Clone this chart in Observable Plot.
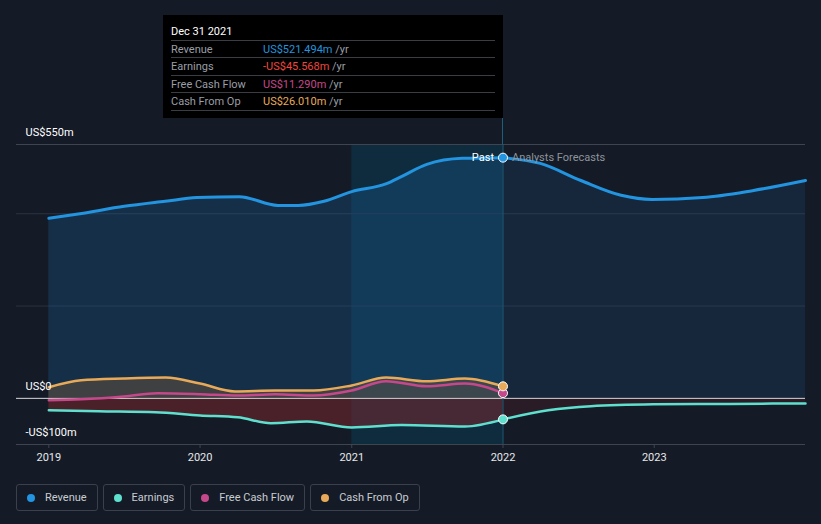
<!DOCTYPE html>
<html>
<head>
<meta charset="utf-8">
<script src="https://cdn.jsdelivr.net/npm/d3@7"></script>
<script src="https://cdn.jsdelivr.net/npm/@observablehq/plot@0.6"></script>
<style>
  html, body { margin: 0; padding: 0; background: #151b26; }
  body { font-family: Roboto, "Noto Sans", sans-serif; }
  #wrap { position: relative; width: 821px; height: 524px; overflow: hidden; }
  #chart svg { display: block; }
  .tip { position: absolute; left: 163px; top: 15px; width: 340px; height: 103px; background: #000; color: #fff; font-size: 11px; }
  .tip .head { position: absolute; left: 8px; top: 10px; font-size: 11px; color: #fff; }
  .tip .row { position: absolute; left: 8px; width: 324px; height: 17px; border-top: 1px solid #3a3d44; }
  .tip .row > span { position: absolute; top: 2px; white-space: nowrap; }
  .tip .lab { left: 0; color: #9a9ea6; }
  .tip .val { left: 92px; }
  .tip .unit { color: #9a9ea6; }
  .tip .last { position: absolute; left: 8px; width: 324px; top: 95px; border-top: 1px solid #3a3d44; }
  .conn { position: absolute; left: 502px; top: 118px; width: 1px; height: 26px; background: #1d5e78; }
  .legend { position: absolute; left: 16px; top: 484px; display: flex; gap: 5px; }
  .legend .item { box-sizing: border-box; height: 27px; border: 1px solid #3a404c; border-radius: 3px; display: flex; align-items: center; padding: 0 10px 0 10px; color: #c8ccd2; font-size: 11px; }
  .legend .dot { width: 8px; height: 8px; border-radius: 50%; margin-right: 10px; }
</style>
</head>
<body>
<div id="wrap">
  <div id="chart"></div>
  <div class="conn"></div>
  <div class="tip" id="tip"></div>
  <div class="legend" id="legend"></div>
</div>
<script>
// ---------- Data ----------
const seriesNames = ["Revenue", "Earnings", "Free Cash Flow", "Cash From Op"];
const seriesColors = ["#2394df", "#5fe0cf", "#c5488b", "#e8aa58"];

const revenueDates = ["2019-01-01","2019-03-17","2019-07-02","2019-10-09","2019-12-24","2020-04-05","2020-07-07","2020-08-25","2020-10-26","2021-01-01","2021-03-26","2021-05-02","2021-07-01","2021-09-25","2022-01-01"];
const revenueValues = [390, 400, 416, 427, 435, 437, 418, 418, 427, 448, 465, 481, 507, 520, 521.494];
const revenueForecastDates = ["2022-01-01","2022-04-01","2022-07-08","2022-10-13","2022-12-27","2023-04-28","2023-08-26","2024-01-01"];
const revenueForecastValues = [521.494, 509, 472, 440, 431, 435, 450, 472];

const earningsDates = ["2019-01-01","2019-05-01","2019-09-15","2020-01-01","2020-04-01","2020-06-20","2020-09-15","2021-01-01","2021-05-01","2021-10-01","2022-01-01"];
const earningsValues = [-26, -28, -30, -37, -41, -54, -50, -63, -58, -61, -45.568];
const earningsForecastDates = ["2022-01-01","2022-04-20","2022-08-01","2022-12-31","2023-06-30","2024-01-01"];
const earningsForecastValues = [-45.568, -26, -17, -13, -12, -11];

const fcfDates = ["2019-01-01","2019-03-20","2019-07-01","2019-09-20","2020-01-01","2020-04-01","2020-07-01","2020-10-01","2021-01-01","2021-03-25","2021-07-01","2021-10-01","2022-01-01"];
const fcfValues = [-4, -2, 4, 11, 9, 6, 9, 6, 17, 37, 26, 32, 11.29];

const cfoDates = ["2019-01-01","2019-03-20","2019-07-01","2019-10-10","2020-01-01","2020-03-25","2020-07-01","2020-10-01","2021-01-01","2021-03-25","2021-07-01","2021-10-01","2022-01-01"];
const cfoValues = [24, 39, 43, 45, 32, 15, 17, 17, 28, 45, 37, 43, 26.01];

const yTicks = [-100, 0, 200, 400, 550];
const yLabelTicks = [550, 0, -100];
const yLabelTexts = ["US$550m", "US$0", "-US$100m"];
const xTickYears = ["2019-01-01","2020-01-01","2021-01-01","2022-01-01","2023-01-01"];
const pastBand = [{start: "2021-01-01", end: "2022-01-01"}];
const cursorDate = "2022-01-01";
const cursorValues = [521.494, -45.568, 11.29, 26.01];
const tooltipTitle = "Dec 31 2021";
const tooltipTexts = ["US$521.494m", "-US$45.568m", "US$11.290m", "US$26.010m"];
const tooltipColors = ["#2394df", "#f0463c", "#c5488b", "#e8aa58"];
const xDomain = ["2018-10-15", "2024-01-01"];
const yDomain = [-100, 550];

// ---------- Build tables ----------
const P = d3.utcParse("%Y-%m-%d");
const zip = (ds, vs) => ds.map((d, i) => ({date: P(d), value: vs[i]}));
const revenue = zip(revenueDates, revenueValues);
const revenueF = zip(revenueForecastDates, revenueForecastValues);
const earnings = zip(earningsDates, earningsValues);
const earningsF = zip(earningsForecastDates, earningsForecastValues);
const fcf = zip(fcfDates, fcfValues);
const cfo = zip(cfoDates, cfoValues);
const band = pastBand.map(b => ({start: P(b.start), end: P(b.end)}));
const cursor = cursorValues.map((v, i) => ({date: P(cursorDate), value: v, color: seriesColors[i]}));
const yLabels = yLabelTicks.map((v, i) => ({v, t: yLabelTexts[i]}));
const curve = "monotone-x";

const plot = Plot.plot({
  width: 821,
  height: 470,
  marginLeft: 16,
  marginRight: 16,
  marginTop: 144,
  marginBottom: 26,
  style: {background: "transparent", color: "#e6e8eb", fontFamily: "Roboto, sans-serif", fontSize: "11px"},
  x: {type: "utc", domain: xDomain.map(P), ticks: xTickYears.map(P), tickFormat: d3.utcFormat("%Y"), tickSize: 4, tickPadding: 5, label: null},
  y: {domain: yDomain, axis: null},
  marks: [
    Plot.rect(band, {x1: "start", x2: "end", fill: "#005a82", fillOpacity: 0.26}),
    Plot.ruleY(yTicks.filter(v => v === 200 || v === 400), {stroke: "#2a3242", strokeWidth: 1}),
    Plot.ruleY([550], {stroke: "#3e4450", strokeWidth: 1}),
    Plot.areaY(revenue, {x: "date", y1: 0, y2: "value", fill: "#1c619b", fillOpacity: 0.3, curve}),
    Plot.areaY(revenueF, {x: "date", y1: 0, y2: "value", fill: "#1c619b", fillOpacity: 0.18, curve}),
    Plot.areaY(cfo, {x: "date", y1: 0, y2: "value", fill: "#7b5a3a", fillOpacity: 0.4, curve}),
    Plot.areaY(earnings, {x: "date", y1: 0, y2: "value", fill: "#7f252c", fillOpacity: 0.5, curve}),
    Plot.areaY(earningsF, {x: "date", y1: 0, y2: "value", fill: "#7f252c", fillOpacity: 0.2, curve}),
    Plot.ruleY([0], {stroke: "#d8d8d8", strokeWidth: 1}),
    Plot.ruleY([-100], {stroke: "#3e4450", strokeWidth: 1}),
    Plot.ruleX([P(cursorDate)], {stroke: "#1d5e78", strokeWidth: 1}),
    Plot.line(cfo, {x: "date", y: "value", stroke: seriesColors[3], strokeWidth: 2.5, curve}),
    Plot.line(fcf, {x: "date", y: "value", stroke: seriesColors[2], strokeWidth: 2.5, curve}),
    Plot.line(earnings, {x: "date", y: "value", stroke: seriesColors[1], strokeWidth: 2.5, curve}),
    Plot.line(earningsF, {x: "date", y: "value", stroke: seriesColors[1], strokeWidth: 2.5, curve}),
    Plot.line(revenue, {x: "date", y: "value", stroke: seriesColors[0], strokeWidth: 3, curve}),
    Plot.line(revenueF, {x: "date", y: "value", stroke: seriesColors[0], strokeWidth: 3, curve}),
    Plot.dot(cursor, {x: "date", y: "value", fill: "color", stroke: "#ffffff", strokeWidth: 1, r: 4.5}),
    Plot.text([cursor[0]], {x: "date", y: "value", text: () => "Past", textAnchor: "end", dx: -9, fill: "#ffffff", fontSize: 11}),
    Plot.text([cursor[0]], {x: "date", y: "value", text: () => "Analysts Forecasts", textAnchor: "start", dx: 9, fill: "#8d939c", fontSize: 11}),
    Plot.text(yLabels, {y: "v", text: "t", frameAnchor: "left", textAnchor: "start", dx: 9, dy: -12, fill: "#ffffff", fontSize: 11})
  ]
});
document.getElementById("chart").appendChild(plot);
d3.select(plot).selectAll("[aria-label='x-axis tick'] path, [aria-label='x-axis tick']").attr("stroke", "#3e4450");
d3.select(plot).selectAll("[aria-label='x-axis tick label'] text").attr("fill", "#e6e8eb");

// ---------- Tooltip ----------
const tip = document.getElementById("tip");
let html = `<div class="head">${tooltipTitle}</div>`;
const rowTops = [25, 42, 60, 77];
seriesNames.forEach((n, i) => {
  html += `<div class="row" style="top:${rowTops[i]}px"><span class="lab">${n}</span><span class="val"><span style="color:${tooltipColors[i]}">${tooltipTexts[i]}</span> <span class="unit">/yr</span></span></div>`;
});
html += `<div class="last"></div>`;
tip.innerHTML = html;

// ---------- Legend ----------
const legend = document.getElementById("legend");
seriesNames.forEach((n, i) => {
  const it = document.createElement("div");
  it.className = "item";
  it.innerHTML = `<span class="dot" style="background:${seriesColors[i]}"></span>${n}`;
  legend.appendChild(it);
});
</script>
</body>
</html>
